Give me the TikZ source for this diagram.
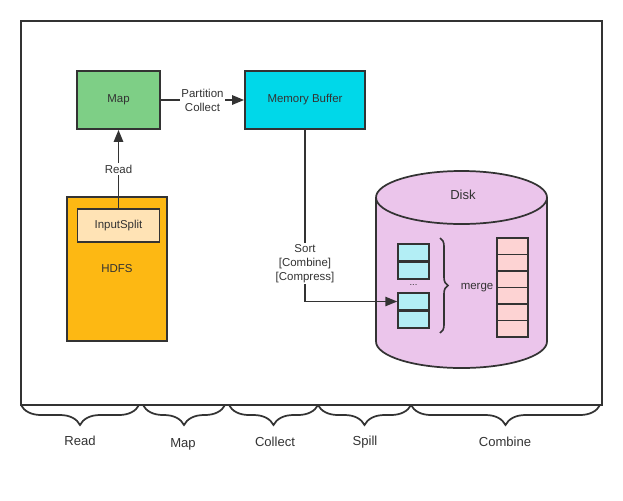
\documentclass[tikz,border=0pt]{standalone}
\usepackage{fontspec}
\setmainfont{Liberation Sans}
\usetikzlibrary{arrows.meta,positioning,decorations.pathreplacing}

\definecolor{ink}{HTML}{333333}
\definecolor{mapgreen}{HTML}{7ECF86}
\definecolor{bufcyan}{HTML}{00D8E9}
\definecolor{hdfsorange}{HTML}{FDB813}
\definecolor{splitcream}{HTML}{FFE3B5}
\definecolor{diskpink}{HTML}{EBC5EB}
\definecolor{cellcyan}{HTML}{B3EEF5}
\definecolor{cellpink}{HTML}{FDD3D3}

\begin{document}
\begin{tikzpicture}[x=0.75pt, y=-0.75pt,
  blk/.style   = {draw=ink, line width=1.3pt, align=center, inner sep=0pt,
                  font=\fontsize{8.6}{10}\selectfont, text=ink},
  mapbox/.style  = {blk, fill=mapgreen,   minimum width=62.25pt, minimum height=43.5pt},
  bufbox/.style  = {blk, fill=bufcyan,    minimum width=90pt,    minimum height=43.5pt},
  hdfsbox/.style = {blk, fill=hdfsorange, minimum width=75pt,    minimum height=108pt},
  splitbox/.style= {blk, fill=splitcream, minimum width=61.5pt,  minimum height=24.75pt},
  ccell/.style   = {draw=ink, line width=1.1pt, fill=cellcyan, inner sep=0pt,
                    minimum width=23.25pt, minimum height=12.6pt},
  pcell/.style   = {draw=ink, line width=1.1pt, fill=cellpink, inner sep=0pt,
                    minimum width=23.25pt, minimum height=12.375pt},
  txt/.style   = {font=\fontsize{8.6}{10.5}\selectfont, text=ink, align=center, inner sep=1pt},
  stage/.style = {font=\fontsize{9.8}{11}\selectfont, text=ink},
  edge/.style  = {line width=1.3pt, draw=ink},
  arr/.style   = {edge, -{Triangle[length=9pt, width=7pt]}},
  lblw/.style  = {txt, fill=white},
  bbrace/.style= {line width=1.3pt, draw=ink, decorate,
                  decoration={brace, mirror, amplitude=15pt}},
]
\useasboundingbox (0,0) rectangle (623,500);

%% -- outer frame ----------------------------------------------------------
\draw[line width=1.5pt, draw=ink] (21,21) rectangle (602,405);

%% -- read / map / buffer --------------------------------------------------
\node[mapbox]  (map)   at (118.5,100)   {Map};
\node[bufbox]  (buf)   at (305,100)     {Memory Buffer};
\node[hdfsbox] (hdfs)  at (117,269)     {HDFS};
\node[splitbox](split) at (118.5,225.5) {InputSplit};

\draw[arr] (split.north) -- node[lblw] {Read} (map.south);
\draw[arr] (map) -- node[lblw] {Partition\\Collect} (buf);

%% -- disk -----------------------------------------------------------------
\filldraw[fill=diskpink, draw=ink, line width=1.3pt]
  (461.5,341.5) ellipse [x radius=85.5, y radius=26.5];
\fill[diskpink] (376,197.5) rectangle (547,341.5);
\draw[edge] (376,197.5) -- (376,341.5) (547,197.5) -- (547,341.5);
\filldraw[fill=diskpink, draw=ink, line width=1.3pt]
  (461.5,197.5) ellipse [x radius=85.5, y radius=26.5];
\node[stage] (disk) at (463,195) {Disk};

%% spill files
\node[ccell] (c1) at (413.5,252.5) {};
\node[ccell, below=0pt of c1] (c2) {};
\node[ccell] (c3) at (413.5,301.5) {};
\node[ccell, below=0pt of c3] (c4) {};
\node[txt, font=\scriptsize] (dots) at (413.5,285) {...};

%% merged file
\foreach \i in {0,...,5}
  \node[pcell] (p\i) at (512.5,246.25+16.5*\i) {};

\draw[line width=1.2pt, draw=ink, decorate, decoration={brace, amplitude=6pt}]
  (440,238) -- (440,333);
\node[txt] (merge) at (477,288) {merge};

\draw[arr] (buf.south) |- node[lblw, pos=0.39] {Sort\\{[}Combine{]}\\{[}Compress{]}} (c3.west);

%% -- stage braces ---------------------------------------------------------
\draw[bbrace] (21,405)  -- (139,405);
\draw[bbrace] (143,405) -- (225,405);
\draw[bbrace] (229,405) -- (318,405);
\draw[bbrace] (318,405) -- (411,405);
\draw[bbrace] (411,405) -- (600,405);
\node[stage] (sread)    at (80,441)  {Read};
\node[stage] (smap)     at (183,444) {Map};
\node[stage] (scollect) at (275,442) {Collect};
\node[stage] (sspill)   at (365,442) {Spill};
\node[stage] (scombine) at (505,442) {Combine};

\end{tikzpicture}
\end{document}
